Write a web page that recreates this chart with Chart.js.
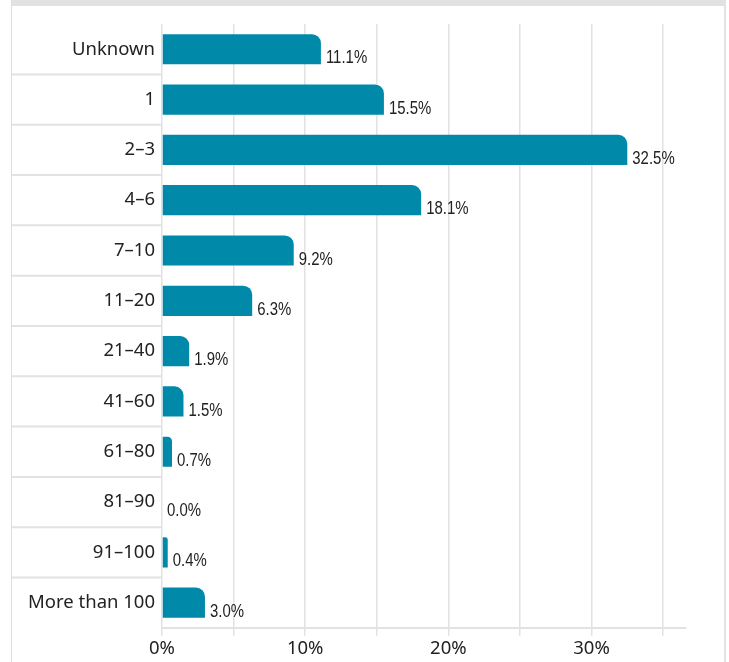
<!DOCTYPE html>
<html lang="en">
<head>
  <meta charset="UTF-8" />
  <title>Distribution</title>
  <script src="https://cdn.jsdelivr.net/npm/chart.js"></script>
  <style>
    html, body {
      margin: 0;
      width: 729px;
      height: 662px;
      background: #ffffff;
      overflow: hidden;
      font-family: "Noto Sans", sans-serif;
    }
    .edge { position: absolute; background: #e2e2e2; }
    .edge.top { left: 11px; top: 0; width: 715px; height: 6px; }
    .edge.left { left: 11px; top: 0; width: 1px; height: 662px; background: #dddddd; }
    .edge.right { left: 724px; top: 0; width: 2px; height: 662px; }
    #sizeChart { position: absolute; left: 12px; top: 6px; }
  </style>
</head>
<body>
  <div class="edge top"></div>
  <div class="edge left"></div>
  <div class="edge right"></div>
  <canvas id="sizeChart" width="712" height="656"></canvas>

  <script>
    const categories = ["Unknown", "1", "2\u20133", "4\u20136", "7\u201310", "11\u201320", "21\u201340",
                        "41\u201360", "61\u201380", "81\u201390", "91\u2013100", "More than 100"];
    const shares = [11.1, 15.5, 32.5, 18.1, 9.2, 6.3, 1.9, 1.5, 0.7, 0.0, 0.4, 3.0];
    const xTickLabels = [0, 10, 20, 30];

    const barColor = "#0089a8";
    const gridColor = "#e2e2e2";

    // row separators to the left of the plot
    const rowLines = {
      id: "rowLines",
      beforeDraw(chart) {
        const y = chart.scales.y;
        const ctx = chart.ctx;
        ctx.save();
        ctx.strokeStyle = gridColor;
        ctx.lineWidth = 2;
        for (let i = 0; i < categories.length - 1; i++) {
          const py = (y.getPixelForTick(i) + y.getPixelForTick(i + 1)) / 2;
          ctx.beginPath();
          ctx.moveTo(0, py);
          ctx.lineTo(chart.chartArea.left, py);
          ctx.stroke();
        }
        ctx.restore();
      }
    };

    // value labels after each bar (narrow look: squeeze horizontally)
    const valueLabels = {
      id: "valueLabels",
      afterDatasetsDraw(chart) {
        const ctx = chart.ctx;
        const meta = chart.getDatasetMeta(0);
        const squeeze = 0.83;
        meta.data.forEach((bar, i) => {
          const bottom = bar.y + bar.height / 2;
          ctx.save();
          ctx.translate(bar.x + 5, bottom - 1);
          ctx.scale(squeeze, 1);
          ctx.font = '18px "Liberation Sans", Arial, sans-serif';
          ctx.fillStyle = "#222222";
          ctx.textAlign = "left";
          ctx.textBaseline = "alphabetic";
          ctx.fillText(shares[i].toFixed(1) + "%", 0, 0);
          ctx.restore();
        });
      }
    };

    new Chart(document.getElementById("sizeChart"), {
      type: "bar",
      data: {
        labels: categories,
        datasets: [{
          data: shares,
          backgroundColor: barColor,
          borderWidth: 0,
          borderSkipped: "start",
          borderRadius: { topRight: 9 },
          barPercentage: 0.6,
          categoryPercentage: 1.0
        }]
      },
      options: {
        indexAxis: "y",
        responsive: false,
        animation: false,
        layout: {
          padding: { top: 8, right: 38, bottom: 0, left: 0 }
        },
        plugins: {
          legend: { display: false },
          tooltip: { enabled: false }
        },
        scales: {
          x: {
            min: 0,
            max: 36.6,
            grid: {
              color: gridColor,
              lineWidth: 1.5,
              tickLength: 8,
              tickColor: gridColor
            },
            border: { color: gridColor, width: 2 },
            ticks: {
              stepSize: 5,
              includeBounds: false,
              padding: 2,
              color: "#222222",
              font: { family: "Noto Sans", size: 18.5 },
              maxRotation: 0,
              callback: v => xTickLabels.includes(v) ? v + "%" : ""
            }
          },
          y: {
            grid: { display: false, drawTicks: false },
            border: { display: false },
            afterFit: scale => { scale.width = 150; },
            ticks: {
              padding: 7,
              color: "#222222",
              font: { family: "Noto Sans", size: 18.5 }
            }
          }
        }
      },
      plugins: [rowLines, valueLabels]
    });
  </script>
</body>
</html>
